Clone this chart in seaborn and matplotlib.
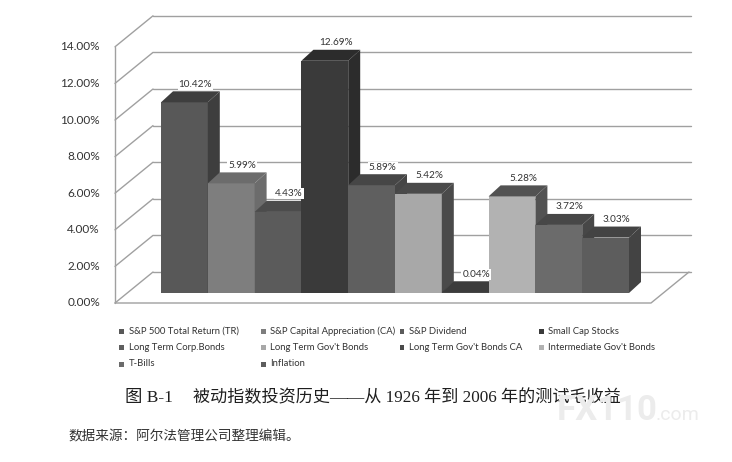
import matplotlib.pyplot as plt
import matplotlib.patches as mpatches
import seaborn as sns
import pandas as pd

# =========================================================
# DATA
# =========================================================

categories = [
    "S&P 500 Total Return (TR)", "S&P Capital Appreciation (CA)",
    "S&P Dividend", "Small Cap Stocks",
    "Long Term Corp.Bonds", "Long Term Gov't Bonds",
    "Long Term Gov't Bonds CA", "Intermediate Gov't Bonds",
    "T-Bills", "Inflation"
]

values = [10.42, 5.99, 4.43, 12.69, 5.89, 5.42, 0.04, 5.28, 3.72, 3.03]

front_colors = [
    "#585858", "#7e7e7e", "#5b5b5b", "#3a3a3a", "#5f5f5f",
    "#a8a8a8", "#4a4a4a", "#b2b2b2", "#6b6b6b", "#5d5d5d"
]

shade_colors = [
    "#3e3e3e", "#6c6c6c", "#4c4c4c", "#2c2c2c", "#464646",
    "#4a4a4a", "#3c3c3c", "#525252", "#474747", "#434343"
]

y_ticks = [0, 2, 4, 6, 8, 10, 12, 14]
tick_labels = ["%.2f%%" % v for v in y_ticks]

caption_head = "图 B-1"
caption_body = "被动指数投资历史——从 1926 年到 2006 年的测试毛收益"
source = "数据来源：阿尔法管理公司整理编辑。"

# =========================================================
# GEOMETRY (pixel based, figure is 732 x 462)
# =========================================================

W, H = 732, 462
PX_X = 46.8          # pixels per bar
PX_Y = 18.3          # pixels per percent
BAR_LEFT_PX = 161    # left edge of first bar
BASE_PX = 293        # bar base, from top

DX, DY = 12 / PX_X, 11 / PX_Y        # bar depth
FX, FY = -12 / PX_X, -10 / PX_Y      # front plane offset
BX, BY = 26 / PX_X, 21 / PX_Y        # back wall offset

XL = -0.5 - (161 - 127) / PX_X
XR = -0.5 + (663 - 161) / PX_X

GRID = "#a0a0a0"
TEXT = "#333333"

sns.set_style("white")
plt.rcParams["font.family"] = ["Lato", "DejaVu Sans"]

fig = plt.figure(figsize=(W / 100, H / 100), dpi=100)
ax = fig.add_axes([0, 0, 1, 1])

df = pd.DataFrame({"category": categories, "value": values})

sns.barplot(
    data=df,
    x="category",
    y="value",
    hue="category",
    palette=front_colors,
    width=1.0,
    saturation=1,
    legend=False,
    linewidth=0,
    ax=ax
)

ax.set_xlim(-0.5 - BAR_LEFT_PX / PX_X, -0.5 + (W - BAR_LEFT_PX) / PX_X)
ax.set_ylim(-(H - BASE_PX) / PX_Y, BASE_PX / PX_Y)
ax.axis("off")

# =========================================================
# WALLS AND FLOOR
# =========================================================

for v in y_ticks:
    ax.plot([XL + BX, XR + BX + 2 / PX_X], [v + BY, v + BY],
            color=GRID, lw=1, zorder=0)
    ax.plot([XL + FX, XL + BX], [v + FY, v + BY],
            color=GRID, lw=1, zorder=0)

ax.plot([XL + FX, XL + FX], [FY, y_ticks[-1] + FY], color=GRID, lw=1, zorder=0)
ax.plot([XL + FX, XR + FX, XR + BX],
        [FY, FY, BY], color=GRID, lw=1, zorder=1)

for v, lab in zip(y_ticks, tick_labels):
    ax.text(XL + FX - 15 / PX_X, v + FY, lab, ha="right", va="center",
            fontsize=8.5, color=TEXT)

# =========================================================
# 3D FACES AND LABELS
# =========================================================

bars = sorted(ax.patches, key=lambda p: p.get_x())

for i, p in enumerate(bars):
    x0 = p.get_x()
    w = p.get_width()
    h = p.get_height()
    z = 2 + i * 3
    p.set_zorder(z)

    top = mpatches.Polygon(
        [(x0, h), (x0 + w, h), (x0 + w + DX, h + DY), (x0 + DX, h + DY)],
        closed=True, facecolor=shade_colors[i], edgecolor="none", zorder=z + 1
    )
    side = mpatches.Polygon(
        [(x0 + w, 0), (x0 + w, h), (x0 + w + DX, h + DY), (x0 + w + DX, DY)],
        closed=True, facecolor=shade_colors[i], edgecolor="none", zorder=z + 1
    )
    ax.add_patch(top)
    ax.add_patch(side)

    ax.text(x0 + w / 2 + 11 / PX_X, h + DY + 7 / PX_Y, "%.2f%%" % values[i],
            ha="center", va="center", fontsize=7.2, color=TEXT, zorder=40,
            bbox=dict(boxstyle="square,pad=0.1", facecolor="white",
                      edgecolor="none"))

# =========================================================
# LEGEND
# =========================================================

col_x = [122, 263, 402, 541]
row_y = [331, 347, 364]

for i, name in enumerate(categories):
    cx = col_x[i % 4]
    cy = row_y[i // 4]
    fig.patches.append(mpatches.Rectangle(
        ((cx - 2.5) / W, 1 - (cy + 2.5) / H), 5 / W, 5 / H,
        transform=fig.transFigure, facecolor=front_colors[i],
        edgecolor="none"
    ))
    fig.text((cx + 7) / W, 1 - cy / H, name, ha="left", va="center",
             fontsize=6.8, color=TEXT)

# =========================================================
# CAPTION
# =========================================================

fig.text(125 / W, 1 - 398 / H, caption_head, ha="left", va="center",
         fontsize=12.5, color="#1e1e1e",
         family=["Liberation Serif", "Noto Sans CJK SC"])

fig.text(193 / W, 1 - 398 / H, caption_body, ha="left", va="center",
         fontsize=12.3, color="#1e1e1e", fontweight="medium",
         family=["Liberation Serif", "Noto Sans CJK SC"])

# watermark over the caption end
fig.text(557 / W, 1 - 411 / H, "FX110", ha="left", va="center",
         fontsize=25, color="#ececec", fontweight="bold", zorder=5,
         family=["Roboto", "DejaVu Sans"])
fig.text(656 / W, 1 - 415 / H, ".com", ha="left", va="center",
         fontsize=14, color="#ececec", zorder=5,
         family=["Roboto", "DejaVu Sans"])

fig.text(68 / W, 1 - 436 / H, source, ha="left", va="center",
         fontsize=9.8, color="#333333", family=["Noto Sans CJK SC"])

plt.savefig("out.png", dpi=100)
